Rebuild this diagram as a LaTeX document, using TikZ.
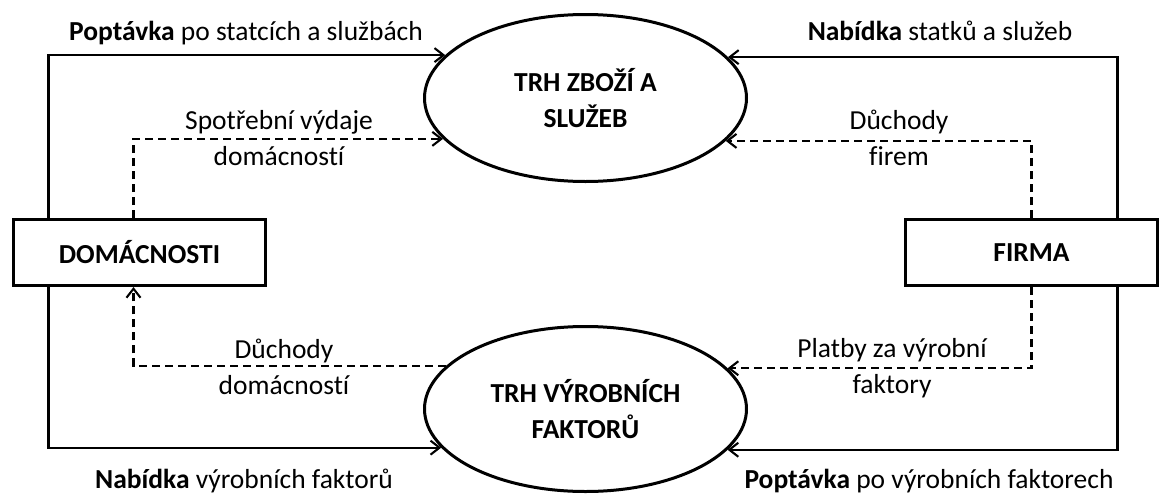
\documentclass[tikz,border=0pt]{standalone}
\usepackage{fontspec}
\setmainfont{Carlito}[Ligatures=NoCommon]
\usetikzlibrary{shapes.geometric,arrows.meta}

\begin{document}
\begin{tikzpicture}[x=1pt,y=-1pt,
  font=\fontsize{27.5}{36}\selectfont,
  market/.style={draw,ellipse,line width=3pt,inner sep=0pt,
    minimum width=322pt,minimum height=167pt,align=center,font=\fontsize{27.5}{36}\selectfont\bfseries},
  agent/.style={draw,rectangle,line width=3pt,inner sep=0pt,
    minimum width=252pt,minimum height=66pt,font=\fontsize{27.5}{36}\selectfont\bfseries},
  goods/.style={line width=2.1pt,-{Straight Barb[length=9pt,width=14pt]}},
  money/.style={goods,dash pattern=on 8pt off 5pt},
  lbl/.style={anchor=base,align=center,inner sep=0pt}]

\useasboundingbox (0,0) rectangle (1159,498);

% markets
\node[market] (zbozi) at (585.5,98) {TRH ZBOŽÍ A\\SLUŽEB};
\node[market, minimum height=165pt] (vyroba) at (585.5,409) {TRH VÝROBNÍCH\\FAKTORŮ};

% economic agents
\node[agent] (dom) at (139.5,252.5) {DOMÁCNOSTI};
\node[agent] (firma) at (1031.5,252.5) {FIRMA};

% real flows (solid)
\draw[goods] ([xshift=36.5pt]dom.north west) |- (zbozi.163.9);
\draw[goods] ([xshift=36.5pt]dom.south west) |- (vyroba.195.6);
\draw[goods] ([xshift=-41.5pt]firma.north east) |- (zbozi.16.1);
\draw[goods] ([xshift=-41.5pt]firma.south east) |- (vyroba.344.4);

% money flows (dashed)
\draw[money] ([xshift=121.5pt]dom.north west) |- (zbozi.196.6);
\draw[money] (vyroba.163.4) -| ([xshift=121.5pt]dom.south west);
\draw[money] (firma.north) |- (zbozi.343.4);
\draw[money] (firma.south) |- (vyroba.16.6);

% flow labels (two-line labels are anchored at the baseline of their last line)
\node[lbl] (l1) at (246,40) {\textbf{Poptávka} po statcích a službách};
\node[lbl] (l2) at (940,40) {\textbf{Nabídka} statků a služeb};
\node[lbl] (l3) at (279,165) {Spotřební výdaje\\domácností};
\node[lbl] (l4) at (899,165) {Důchody\\firem};
\node[lbl] (l5) at (284,394) {Důchody\\domácností};
\node[lbl] (l6) at (892,393) {Platby za výrobní\\faktory};
\node[lbl] (l7) at (244,488) {\textbf{Nabídka} výrobních faktorů};
\node[lbl] (l8) at (929,488) {\textbf{Poptávka} po výrobních faktorech};
\end{tikzpicture}
\end{document}
